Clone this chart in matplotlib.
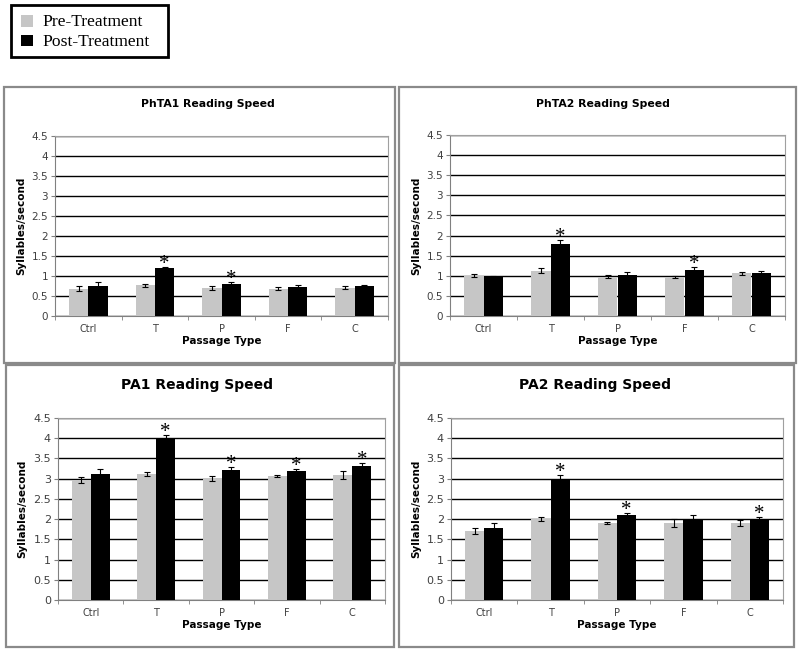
import numpy as np
import matplotlib
matplotlib.use('Agg')
import matplotlib.pyplot as plt
from matplotlib.patches import Rectangle

# Data
categories = ['Ctrl', 'T', 'P', 'F', 'C']

phta1_pre = [0.68, 0.77, 0.70, 0.68, 0.71]
phta1_pre_err = [0.06, 0.04, 0.04, 0.04, 0.03]
phta1_post = [0.75, 1.19, 0.79, 0.73, 0.74]
phta1_post_err = [0.10, 0.03, 0.05, 0.05, 0.04]
phta1_sig = [False, True, True, False, False]

phta2_pre = [1.00, 1.13, 0.98, 0.97, 1.06]
phta2_pre_err = [0.04, 0.07, 0.04, 0.03, 0.04]
phta2_post = [0.98, 1.78, 1.01, 1.15, 1.08]
phta2_post_err = [0.02, 0.12, 0.09, 0.06, 0.04]
phta2_sig = [False, True, False, True, False]

pa1_pre = [2.97, 3.11, 3.01, 3.06, 3.09]
pa1_pre_err = [0.07, 0.05, 0.06, 0.03, 0.10]
pa1_post = [3.11, 4.00, 3.22, 3.18, 3.31]
pa1_post_err = [0.12, 0.08, 0.07, 0.05, 0.07]
pa1_sig = [False, True, True, True, True]

pa2_pre = [1.71, 2.00, 1.90, 1.90, 1.90]
pa2_pre_err = [0.08, 0.04, 0.03, 0.10, 0.07]
pa2_post = [1.78, 3.00, 2.09, 2.00, 2.00]
pa2_post_err = [0.13, 0.10, 0.06, 0.09, 0.06]
pa2_sig = [False, True, True, False, True]

W, H = 800, 653
fig = plt.figure(figsize=(W / 100, H / 100), dpi=100)

PRE_COLOR = '#c6c6c6'
POST_COLOR = '#000000'


def px_axes(left, top, right, bottom):
    return fig.add_axes([left / W, 1 - bottom / H, (right - left) / W, (bottom - top) / H])


def panel_box(left, top, right, bottom):
    fig.patches.append(Rectangle((left / W, 1 - bottom / H), (right - left) / W, (bottom - top) / H,
                                 transform=fig.transFigure, fill=False,
                                 edgecolor='#8a8a8a', linewidth=1.6))


def draw_panel(ax, pre, pre_err, post, post_err, sig, big):
    x = np.arange(len(categories))
    w = 0.29
    ekw = dict(ecolor='black', elinewidth=0.8, capsize=2, capthick=0.8)
    ax.bar(x - w / 2, pre, w, color=PRE_COLOR, zorder=3, yerr=pre_err, error_kw=ekw)
    ax.bar(x + w / 2, post, w, color=POST_COLOR, zorder=3, yerr=post_err, error_kw=ekw)
    # significance asterisks just above the post-treatment error bars
    for i, s in enumerate(sig):
        if s:
            ax.annotate('*', (x[i] + w / 2, post[i] + post_err[i]), xytext=(0, -1.5),
                        textcoords='offset points', ha='center', va='baseline',
                        fontsize=15, family='Liberation Serif', zorder=4)
    ax.set_xlim(-0.5, len(categories) - 0.5)
    ax.set_ylim(0, 4.5)
    ax.set_yticks(np.arange(0, 4.51, 0.5))
    ax.set_yticklabels(['0', '0.5', '1', '1.5', '2', '2.5', '3', '3.5', '4', '4.5'])
    ax.set_xticks(x)
    ax.set_xticklabels(categories)
    ax.set_xticks(np.arange(-0.5, len(categories), 1), minor=True)
    ax.tick_params(axis='x', which='major', length=0, labelsize=7, colors='#404040', pad=6)
    ax.tick_params(axis='x', which='minor', length=3, color='#808080')
    ax.tick_params(axis='y', length=3, labelsize=8 if big else 7.5, colors='#404040', pad=2)
    ax.tick_params(axis='y', color='#808080')
    ax.grid(axis='y', color='black', linewidth=1.0, zorder=0)
    ax.set_axisbelow(True)
    for sp in ax.spines.values():
        sp.set_color('#a0a0a0')
        sp.set_linewidth(0.8)
    ax.spines['bottom'].set_color('#808080')
    ax.spines['left'].set_color('#808080')
    ax.set_ylabel('Syllables/second', fontsize=7.5, fontweight='bold', labelpad=4)
    ax.set_xlabel('Passage Type', fontsize=7.5, fontweight='bold', labelpad=1)


# panel boxes
panel_box(4, 87, 395, 363)
panel_box(399, 87, 796, 363)
panel_box(6, 365, 394, 647)
panel_box(399, 365, 794, 647)

ax1 = px_axes(55, 136, 388, 316)
draw_panel(ax1, phta1_pre, phta1_pre_err, phta1_post, phta1_post_err, phta1_sig, False)
ax2 = px_axes(450, 135, 785, 316)
draw_panel(ax2, phta2_pre, phta2_pre_err, phta2_post, phta2_post_err, phta2_sig, False)
ax3 = px_axes(58, 418, 385, 600)
draw_panel(ax3, pa1_pre, pa1_pre_err, pa1_post, pa1_post_err, pa1_sig, True)
ax4 = px_axes(451, 418, 783, 600)
draw_panel(ax4, pa2_pre, pa2_pre_err, pa2_post, pa2_post_err, pa2_sig, True)

# titles
fig.text(208 / W, 1 - 104 / H, 'PhTA1 Reading Speed', ha='center', va='center', fontsize=7.8, fontweight='bold')
fig.text(603 / W, 1 - 104 / H, 'PhTA2 Reading Speed', ha='center', va='center', fontsize=7.8, fontweight='bold')
fig.text(197 / W, 1 - 385 / H, 'PA1 Reading Speed', ha='center', va='center', fontsize=10, fontweight='bold')
fig.text(595 / W, 1 - 385 / H, 'PA2 Reading Speed', ha='center', va='center', fontsize=10, fontweight='bold')

# legend box
fig.patches.append(Rectangle((11 / W, 1 - 57 / H), 157 / W, 52 / H, transform=fig.transFigure,
                             fill=False, edgecolor='black', linewidth=2))
fig.patches.append(Rectangle((21 / W, 1 - 27 / H), 12 / W, 12 / H, transform=fig.transFigure,
                             facecolor=PRE_COLOR, edgecolor='none'))
fig.patches.append(Rectangle((21 / W, 1 - 46 / H), 12 / W, 11 / H, transform=fig.transFigure,
                             facecolor=POST_COLOR, edgecolor='none'))
fig.text(42 / W, 1 - 22 / H, 'Pre-Treatment', ha='left', va='center', fontsize=12.6, family='Liberation Serif')
fig.text(42 / W, 1 - 42 / H, 'Post-Treatment', ha='left', va='center', fontsize=12.6, family='Liberation Serif')

fig.savefig('out.png', dpi=100)
